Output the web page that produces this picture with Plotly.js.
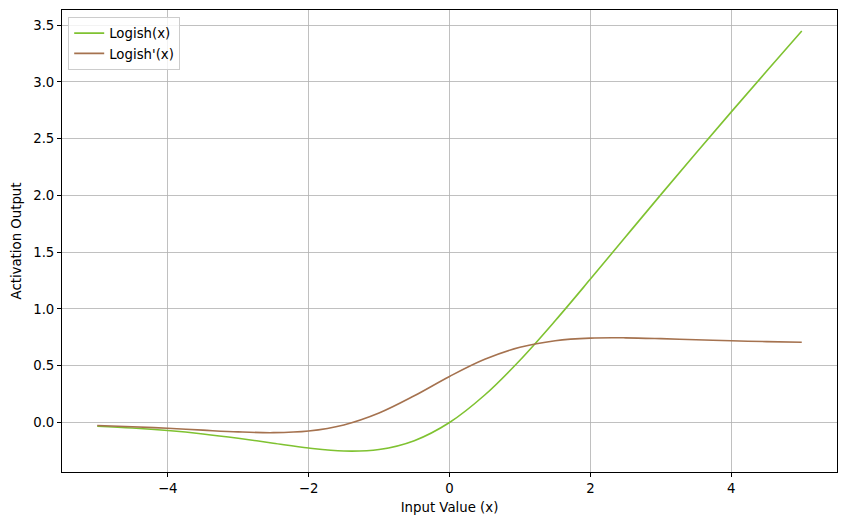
<!DOCTYPE html>
<html>
<head>
<meta charset="utf-8">
<script src="https://cdn.plot.ly/plotly-3.0.1.min.js"></script>
<style>html,body{margin:0;padding:0;background:#fff;}#chart{width:846px;height:525px;}</style>
</head>
<body>
<div id="chart"></div>
<script>
const xValues = [-5, -4.5, -4, -3.5, -3, -2.5, -2, -1.5, -1, -0.5, 0, 0.5, 1, 1.5, 2, 2.5, 3, 3.5, 4, 4.5, 5];
const logish = [-0.0334, -0.0492, -0.0713, -0.1011, -0.1390, -0.1828, -0.2252, -0.2514, -0.2382, -0.1602, 0.0, 0.2420, 0.5487, 0.8963, 1.2634, 1.6362, 2.0074, 2.3743, 2.7365, 3.0944, 3.4490];
const logishDeriv = [-0.0264, -0.0374, -0.0516, -0.0679, -0.0831, -0.0898, -0.0750, -0.0216, 0.0832, 0.2350, 0.4055, 0.5564, 0.6623, 0.7206, 0.7434, 0.7456, 0.7386, 0.7289, 0.7198, 0.7122, 0.7065];
const seriesNames = ["Logish(x)", "Logish'(x)"];
const xTicks = [-4, -2, 0, 2, 4];
const xTickText = ["\u22124", "\u22122", "0", "2", "4"];
const yTicks = [0, 0.5, 1, 1.5, 2, 2.5, 3, 3.5];
const yTickText = ["0.0", "0.5", "1.0", "1.5", "2.0", "2.5", "3.0", "3.5"];

const traces = [
  {x: xValues, y: logish, name: seriesNames[0], mode: 'lines', line: {color: '#7fc231', width: 1.6, shape: 'spline', smoothing: 1}},
  {x: xValues, y: logishDeriv, name: seriesNames[1], mode: 'lines', line: {color: '#a5724f', width: 1.6, shape: 'spline', smoothing: 1}}
];
const font = {family: 'DejaVu Sans, sans-serif', size: 13.3, color: '#000'};
const layout = {
  width: 846, height: 525,
  margin: {l: 62, r: 9, t: 10, b: 53},
  paper_bgcolor: '#fff', plot_bgcolor: '#fff',
  font: font,
  showlegend: true,
  legend: {x: 0.008, y: 0.985, xanchor: 'left', yanchor: 'top', bgcolor: 'rgba(255,255,255,0.8)', bordercolor: '#cccccc', borderwidth: 1, font: {family: 'DejaVu Sans, sans-serif', size: 13.3}, tracegroupgap: 2},
  xaxis: {
    range: [-5.5, 5.5], tickvals: xTicks, ticktext: xTickText,
    showgrid: true, gridcolor: '#b0b0b0', gridwidth: 0.8,
    zeroline: false, showline: true, linecolor: '#000', linewidth: 1, mirror: true,
    ticks: 'outside', ticklen: 4, tickcolor: '#000',
    title: {text: 'Input Value (x)', font: font, standoff: 7}
  },
  yaxis: {
    range: [-0.4364, 3.634], tickvals: yTicks, ticktext: yTickText,
    showgrid: true, gridcolor: '#b0b0b0', gridwidth: 0.8,
    zeroline: false, showline: true, linecolor: '#000', linewidth: 1, mirror: true,
    ticks: 'outside', ticklen: 4, tickcolor: '#000',
    title: {text: 'Activation Output', font: font, standoff: 8}
  }
};
Plotly.newPlot('chart', traces, layout, {displayModeBar: false, staticPlot: true});
</script>
</body>
</html>
